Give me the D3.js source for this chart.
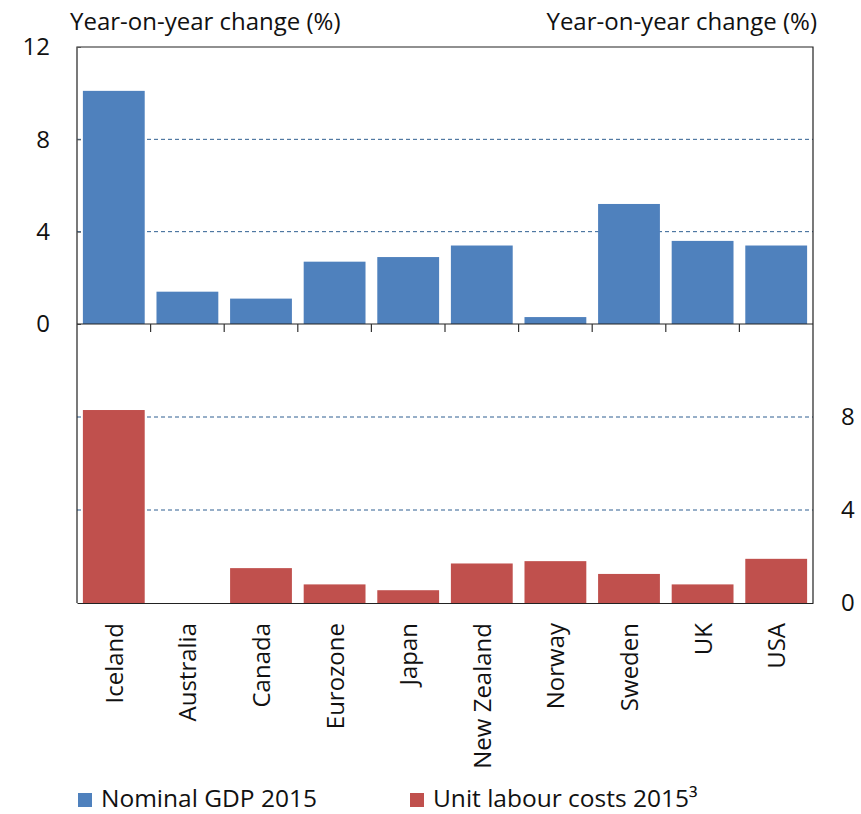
<!DOCTYPE html>
<html>
<head>
<meta charset="utf-8">
<script src="https://cdn.jsdelivr.net/npm/d3@7"></script>
<style>
  body { margin: 0; background: #fff; }
  text { font-family: "Open Sans", sans-serif; fill: #111; }
</style>
</head>
<body>
<svg id="chart" width="861" height="814"></svg>
<script>
var countries = ['Iceland', 'Australia', 'Canada', 'Eurozone', 'Japan', 'New Zealand', 'Norway', 'Sweden', 'UK', 'USA'];
var gdp = [10.1, 1.4, 1.1, 2.7, 2.9, 3.4, 0.3, 5.2, 3.6, 3.4];
var ulc = [8.3, 0, 1.5, 0.8, 0.55, 1.7, 1.8, 1.25, 0.8, 1.9];
var topTicks = [0, 4, 8, 12];
var botTicks = [0, 4, 8];
var gridTicks = [4, 8];
var seriesNames = ['Nominal GDP 2015', 'Unit labour costs 2015\u00b3'];
var colors = ['#4f81bd', '#c0504d'];
var fs = '24px';

var svg = d3.select('#chart');
var pLeft = 77, pRight = 813, pTop = 47, pMid = 324, pBottom = 603;

var x = d3.scaleBand().domain(countries).range([pLeft, pRight])
  .paddingInner(0.16).paddingOuter(0.08);
var yTop = d3.scaleLinear().domain([0, 12]).range([pMid, pTop]);
var yBot = d3.scaleLinear().domain([0, 12]).range([pBottom, pMid]);
var step = x.step();

// gridlines
function grid(scale) {
  svg.append('g').selectAll('line').data(gridTicks).enter().append('line')
    .attr('x1', pLeft).attr('x2', pRight)
    .attr('y1', function(d) { return scale(d); })
    .attr('y2', function(d) { return scale(d); })
    .attr('stroke', '#2f5f91').attr('stroke-width', 1)
    .attr('stroke-dasharray', '4,3');
}
grid(yTop);
grid(yBot);

// bars
svg.append('g').selectAll('rect').data(gdp).enter().append('rect')
  .attr('x', function(d, i) { return x(countries[i]); })
  .attr('width', x.bandwidth())
  .attr('y', function(d) { return yTop(d); })
  .attr('height', function(d) { return yTop(0) - yTop(d); })
  .attr('fill', colors[0]);

svg.append('g').selectAll('rect').data(ulc).enter().append('rect')
  .attr('x', function(d, i) { return x(countries[i]); })
  .attr('width', x.bandwidth())
  .attr('y', function(d) { return yBot(d); })
  .attr('height', function(d) { return yBot(0) - yBot(d); })
  .attr('fill', colors[1]);

// frame
svg.append('path')
  .attr('d', 'M' + pLeft + ',' + pBottom + 'V' + pTop + 'H' + pRight + 'V' + pBottom)
  .attr('fill', 'none').attr('stroke', '#222').attr('stroke-width', 1.2);

// left axis (top panel)
var axL = svg.append('g').attr('transform', 'translate(' + pLeft + ',0)')
  .call(d3.axisLeft(yTop).tickValues(topTicks).tickSize(-4).tickPadding(27));
axL.select('.domain').remove();
axL.selectAll('line').attr('stroke', '#555');
axL.selectAll('text').style('font-size', fs).attr('fill', '#111');

// right axis (bottom panel)
var axR = svg.append('g').attr('transform', 'translate(' + pRight + ',0)')
  .call(d3.axisRight(yBot).tickValues(botTicks).tickSize(0).tickPadding(28));
axR.select('.domain').remove();
axR.selectAll('text').style('font-size', fs).attr('fill', '#111');

// middle axis with category dividers
var bounds = countries.slice(1).map(function(c) { return x(c) - step * x.paddingInner() / 2; });
svg.append('line').attr('x1', pLeft).attr('x2', pRight).attr('y1', pMid).attr('y2', pMid)
  .attr('stroke', '#222').attr('stroke-width', 1.2);
svg.append('g').selectAll('line').data(bounds).enter().append('line')
  .attr('x1', function(d) { return d; }).attr('x2', function(d) { return d; })
  .attr('y1', pMid).attr('y2', pMid + 8)
  .attr('stroke', '#333').attr('stroke-width', 1.2);

// bottom axis with rotated labels
var axB = svg.append('g').attr('transform', 'translate(0,' + pBottom + ')')
  .call(d3.axisBottom(x).tickSize(0).tickPadding(0));
axB.select('.domain').attr('stroke', '#222').attr('stroke-width', 1.2);
axB.selectAll('text')
  .style('font-size', fs).attr('fill', '#111')
  .attr('text-anchor', 'end')
  .attr('dy', null)
  .attr('transform', 'translate(9,20) rotate(-90)');

// axis titles
svg.append('text').attr('x', 70).attr('y', 30).style('font-size', fs)
  .text('Year-on-year change (%)');
svg.append('text').attr('x', 817).attr('y', 30).attr('text-anchor', 'end').style('font-size', fs)
  .text('Year-on-year change (%)');

// legend
var legX = [78, 410];
var leg = svg.append('g').selectAll('g').data(seriesNames).enter().append('g')
  .attr('transform', function(d, i) { return 'translate(' + legX[i] + ',793)'; });
leg.append('rect').attr('width', 14).attr('height', 14)
  .attr('fill', function(d, i) { return colors[i]; });
leg.append('text').attr('x', 23).attr('y', 14).style('font-size', '24.5px')
  .text(function(d) { return d; });
</script>
</body>
</html>
